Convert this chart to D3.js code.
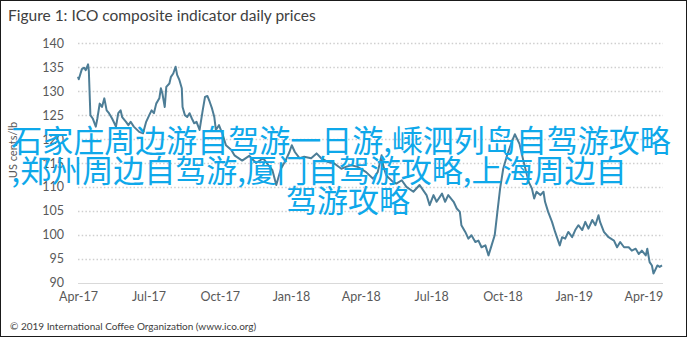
<!DOCTYPE html>
<html>
<head>
<meta charset="utf-8">
<script src="https://cdn.jsdelivr.net/npm/d3@7"></script>
<style>
  body { margin: 0; background: #fff; }
  text { font-family: Lato, "Open Sans", sans-serif; }
</style>
</head>
<body>
<div id="chart"></div>
<script>
var dates = [
  "2017-04-01","2017-04-02","2017-04-06","2017-04-09","2017-04-11","2017-04-14","2017-04-15","2017-04-17","2017-04-20","2017-04-24",
  "2017-04-26","2017-04-29","2017-05-02","2017-05-05","2017-05-08","2017-05-11","2017-05-15","2017-05-18","2017-05-20","2017-05-23",
  "2017-05-26","2017-05-28","2017-06-02","2017-06-05","2017-06-08","2017-06-12","2017-06-19","2017-06-24","2017-06-28","2017-07-02",
  "2017-07-05","2017-07-08","2017-07-11","2017-07-15","2017-07-17","2017-07-19","2017-07-22","2017-07-24","2017-07-28","2017-07-30",
  "2017-08-02","2017-08-05","2017-08-07","2017-08-10","2017-08-13","2017-08-14","2017-08-17","2017-08-20","2017-08-23","2017-08-26",
  "2017-08-29","2017-09-01","2017-09-05","2017-09-09","2017-09-12","2017-09-15","2017-09-18","2017-09-21","2017-09-24","2017-09-26",
  "2017-09-30","2017-10-05","2017-10-09","2017-10-16","2017-10-20","2017-10-30","2017-11-08","2017-11-17","2017-11-26","2017-12-03",
  "2017-12-08","2017-12-13","2017-12-19","2017-12-25","2017-12-30","2018-01-02","2018-01-06","2018-01-12","2018-01-18","2018-01-27",
  "2018-02-03","2018-02-09","2018-02-18","2018-02-26","2018-03-07","2018-03-13","2018-03-20","2018-03-28","2018-04-04","2018-04-08",
  "2018-04-17","2018-04-23","2018-04-28","2018-04-30","2018-05-04","2018-05-13","2018-05-17","2018-05-24","2018-05-30","2018-06-08",
  "2018-06-16","2018-06-25","2018-06-29","2018-07-04","2018-07-08","2018-07-15","2018-07-19","2018-07-23","2018-07-30","2018-08-03",
  "2018-08-07","2018-08-09","2018-08-14","2018-08-18","2018-08-22","2018-08-27","2018-08-31","2018-09-04","2018-09-09","2018-09-13",
  "2018-09-17","2018-09-21","2018-09-24","2018-09-28","2018-10-02","2018-10-07","2018-10-13","2018-10-17","2018-10-23","2018-10-28",
  "2018-11-04","2018-11-08","2018-11-11","2018-11-14","2018-11-19","2018-11-23","2018-11-25","2018-11-29","2018-12-04","2018-12-08",
  "2018-12-14","2018-12-17","2018-12-21","2018-12-25","2018-12-30","2019-01-03","2019-01-07","2019-01-12","2019-01-16","2019-01-20",
  "2019-01-25","2019-01-29","2019-02-02","2019-02-04","2019-02-09","2019-02-15","2019-02-22","2019-02-26","2019-03-02","2019-03-07",
  "2019-03-13","2019-03-17","2019-03-22","2019-03-26","2019-03-30","2019-04-04","2019-04-06","2019-04-09","2019-04-12","2019-04-14",
  "2019-04-19","2019-04-22","2019-04-25"
];
var prices = [
  133.0,132.5,134.6,134.9,134.4,135.6,134.2,125.0,124.3,122.6,
  124.3,127.4,126.7,128.5,126.0,125.4,124.3,123.3,122.6,125.4,
  126.0,124.6,123.6,122.9,123.6,122.6,121.5,121.2,123.6,125.0,
  126.0,125.4,127.4,128.5,130.6,129.5,126.7,130.9,131.6,133.0,
  133.7,135.1,133.4,132.3,130.6,126.7,125.0,124.6,125.4,124.3,
  123.3,123.6,121.9,126.0,128.8,129.0,127.8,126.4,124.6,121.9,
  122.9,120.8,118.7,117.7,116.6,115.5,116.5,115.0,116.0,114.5,
  113.5,110.4,113.8,115.5,117.3,118.7,117.3,116.0,116.3,116.0,
  117.0,116.0,115.2,114.9,113.8,114.2,114.5,114.2,113.5,113.1,
  111.7,113.1,116.6,114.5,112.4,111.0,110.7,111.4,110.0,109.0,
  110.4,108.3,106.2,108.3,106.9,108.6,106.9,108.3,106.9,105.5,
  104.8,102.0,100.6,99.2,99.9,98.5,98.8,97.4,97.8,95.7,
  97.8,99.9,104.1,109.7,113.8,116.6,119.4,121.0,119.0,115.5,
  111.0,109.7,107.6,109.0,108.3,109.0,106.9,104.8,102.7,100.6,
  97.8,99.5,99.2,100.6,99.5,101.0,102.0,101.0,102.7,101.3,
  103.1,102.0,104.1,102.7,100.6,99.5,98.8,97.4,98.5,97.4,
  97.4,96.7,97.1,96.0,96.7,95.7,97.1,94.3,93.6,91.9,
  93.6,93.3,93.6
];
var yTicks = [90, 95, 100, 105, 110, 115, 120, 125, 130, 135, 140];
var xTicks = ["2017-04-01","2017-07-01","2017-10-01","2018-01-01","2018-04-01","2018-07-01","2018-10-01","2019-01-01","2019-04-01"];
var overlayLines = ["石家庄周边游自驾游一日游,嵊泗列岛自驾游攻略", ",郑州周边自驾游,厦门自驾游攻略,上海周边自", "驾游攻略"];

var w = 695, h = 339;
var parse = d3.timeParse("%Y-%m-%d");
var data = dates.map(function(d, i) { return { date: parse(d), value: prices[i] }; });

var svg = d3.select("#chart").append("svg").attr("width", w).attr("height", h);

svg.append("rect").attr("x", 0.5).attr("y", 0.5).attr("width", 686).attr("height", 336)
  .attr("fill", "#fff").attr("stroke", "#1a1a1a").attr("stroke-width", 1);

var x = d3.scaleTime().domain([parse("2017-04-01"), parse("2019-04-25")]).range([78, 662]);
var y = d3.scaleLinear().domain([90, 140]).range([282.7, 43.3]);

svg.append("text").attr("x", 8).attr("y", 21).attr("font-size", 15.5).attr("fill", "#404040")
  .text("Figure 1: ICO composite indicator daily prices");

// grid
svg.append("g").selectAll("line").data(yTicks.filter(function(d) { return d > 90; })).enter().append("line")
  .attr("x1", 78).attr("x2", 663)
  .attr("y1", function(d) { return Math.round(y(d)) + 0.5; }).attr("y2", function(d) { return Math.round(y(d)) + 0.5; })
  .attr("stroke", "#cfcfcf").attr("stroke-width", 1.5).attr("stroke-dasharray", "1.5,2.2");

svg.append("line").attr("x1", 78).attr("x2", 663).attr("y1", Math.round(y(90)) + 0.5).attr("y2", Math.round(y(90)) + 0.5)
  .attr("stroke", "#d9d9d9").attr("stroke-width", 1);

var yAxis = svg.append("g").attr("transform", "translate(64,0)")
  .call(d3.axisLeft(y).tickValues(yTicks).tickSize(0).tickPadding(0));
yAxis.select(".domain").remove();
yAxis.selectAll("text").attr("font-size", 12.5).attr("fill", "#595959").attr("font-family", "Lato, sans-serif");

var xAxis = svg.append("g").attr("transform", "translate(0,292)")
  .call(d3.axisBottom(x).tickValues(xTicks.map(parse)).tickFormat(d3.timeFormat("%b-%y")).tickSize(0).tickPadding(0));
xAxis.select(".domain").remove();
xAxis.selectAll("text").attr("font-size", 12.5).attr("fill", "#595959").attr("font-family", "Lato, sans-serif");

svg.append("text").attr("transform", "translate(17,150) rotate(-90)").attr("text-anchor", "middle")
  .attr("font-size", 11).attr("fill", "#595959").text("US cents/lb");

var line = d3.line().x(function(d) { return x(d.date); }).y(function(d) { return y(d.value); });
svg.append("path").datum(data).attr("d", line).attr("fill", "none")
  .attr("stroke", "#4d7d96").attr("stroke-width", 2).attr("stroke-linejoin", "round");

svg.append("text").attr("x", 10).attr("y", 330).attr("font-size", 10).attr("fill", "#404040")
  .text("© 2019 International Coffee Organization (www.ico.org)");

// overlay text
var ov = svg.append("g").attr("fill", "#0ea8ea").attr("font-size", 31).attr("text-anchor", "middle");
ov.selectAll("text").data(overlayLines).enter().append("text")
  .style("font-family", "'Noto Sans CJK SC', sans-serif")
  .attr("x", function(d, i) { return [341, 319, 348][i]; })
  .attr("y", function(d, i) { return 152 + i * 30; })
  .text(function(d) { return d; });
</script>
</body>
</html>
